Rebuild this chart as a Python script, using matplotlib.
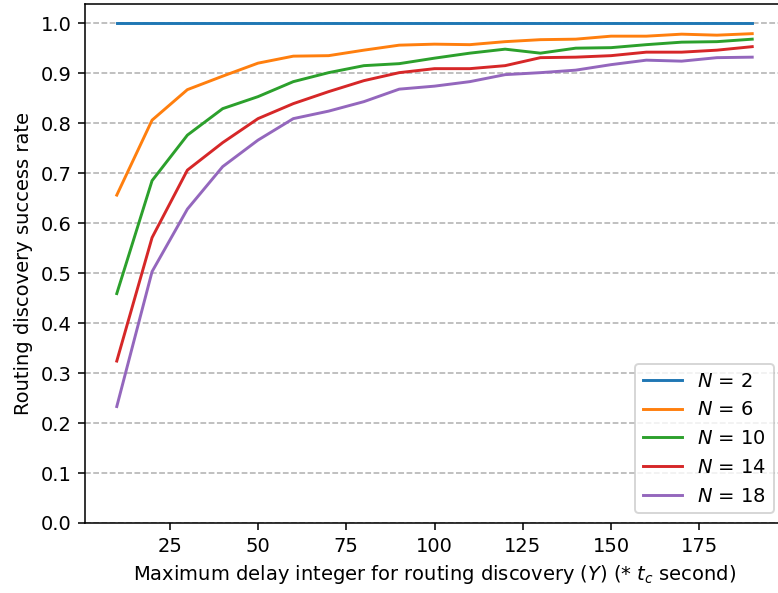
import matplotlib.pyplot as plt
import numpy as np

plt.switch_backend("agg")

# maximum delay integer Y (in units of t_c)
delay = np.arange(10, 200, 10)

node_counts = [2, 6, 10, 14, 18]

rate_n2 = [1.0] * 19
rate_n6 = [0.656, 0.806, 0.867, 0.894, 0.920, 0.934, 0.935, 0.946, 0.956, 0.958,
           0.957, 0.963, 0.967, 0.968, 0.974, 0.974, 0.978, 0.976, 0.979]
rate_n10 = [0.459, 0.685, 0.776, 0.829, 0.853, 0.883, 0.901, 0.915, 0.919, 0.930,
            0.940, 0.948, 0.940, 0.950, 0.951, 0.957, 0.962, 0.963, 0.968]
rate_n14 = [0.324, 0.571, 0.706, 0.761, 0.809, 0.839, 0.863, 0.885, 0.901, 0.909,
            0.909, 0.915, 0.931, 0.932, 0.935, 0.942, 0.942, 0.946, 0.953]
rate_n18 = [0.233, 0.503, 0.628, 0.713, 0.766, 0.809, 0.824, 0.843, 0.868, 0.874,
            0.883, 0.897, 0.901, 0.906, 0.917, 0.926, 0.924, 0.931, 0.932]

rates = [rate_n2, rate_n6, rate_n10, rate_n14, rate_n18]

fig = plt.figure(figsize=(778 / 140, 593 / 140), dpi=140)
ax = fig.add_axes([85 / 778, 70 / 593, 699 / 778, 519 / 593])

for n, r in zip(node_counts, rates):
    ax.plot(delay, r, label=f"$N$ = {n}")

ax.set_ylim(bottom=0)
ax.set_yticks(np.arange(0, 1.01, 0.1))
ax.set_xlabel("Maximum delay integer for routing discovery ($Y$) (* $t_c$ second)")
ax.set_ylabel("Routing discovery success rate")
ax.grid(axis="y", linestyle="--")
ax.legend(loc="lower right")

fig.savefig("out.png", dpi=140)
plt.close(fig)
